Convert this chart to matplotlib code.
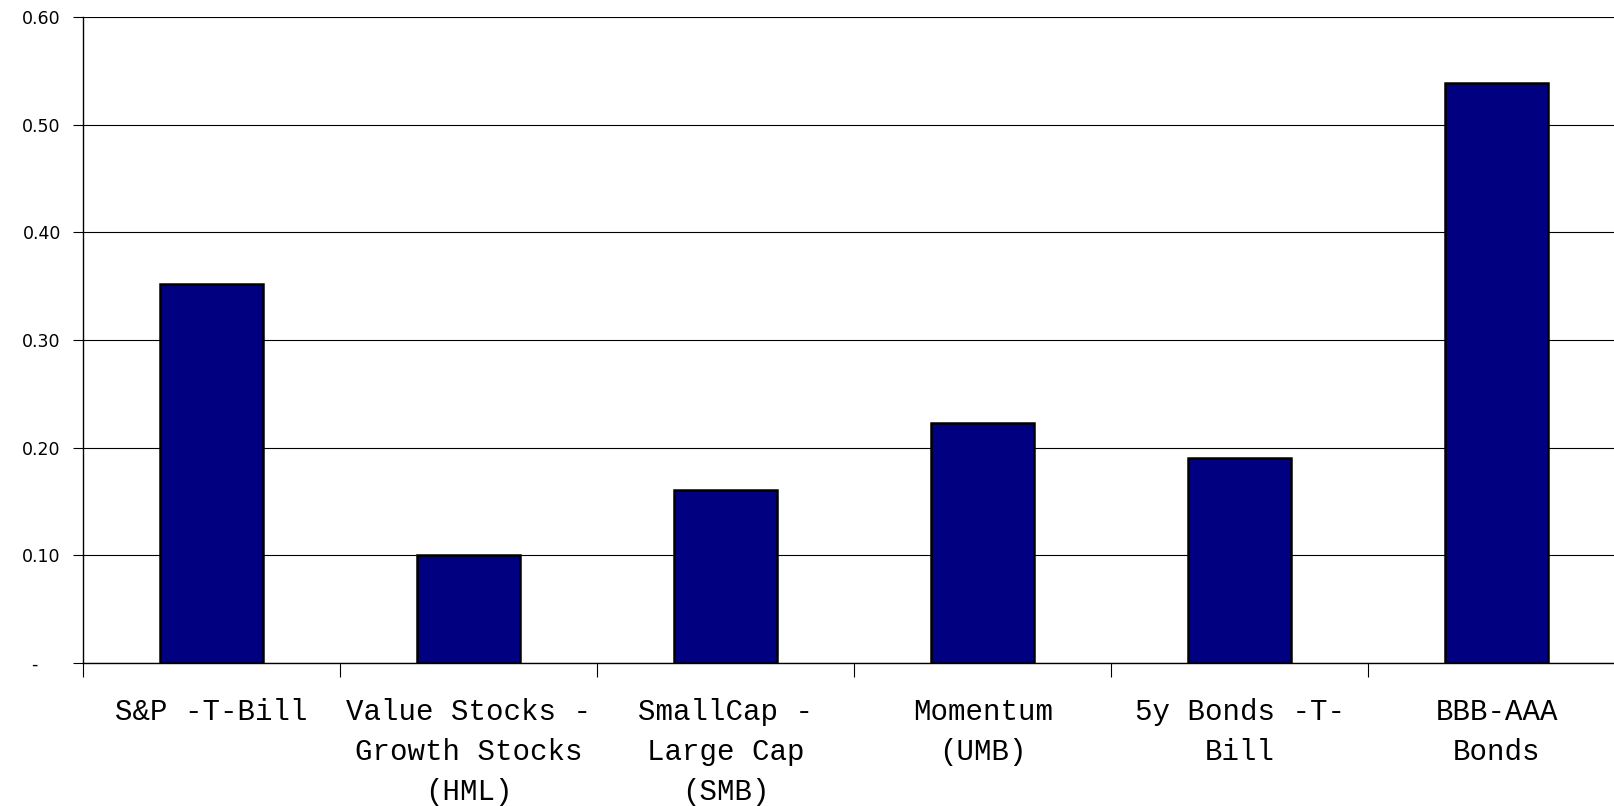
import numpy as np
import matplotlib.pyplot as plt

# Sharpe-type ratios of the factor portfolios
categories = [
    "S&P -T-Bill",
    "Value Stocks -\nGrowth Stocks\n(HML)",
    "SmallCap -\nLarge Cap\n(SMB)",
    "Momentum\n(UMB)",
    "5y Bonds -T-\nBill",
    "BBB-AAA\nBonds",
]
values = [0.352, 0.100, 0.161, 0.223, 0.190, 0.539]
yticks = [0.0, 0.1, 0.2, 0.3, 0.4, 0.5, 0.6]
ytick_labels = ["-    ", "0.10", "0.20", "0.30", "0.40", "0.50", "0.60"]

fig = plt.figure(figsize=(16.15, 8.06), dpi=100)
ax = fig.add_axes([0.0514, 0.1774, 0.955, 0.8015])

x = np.arange(len(categories))
ax.bar(x, values, width=0.4, color="#000080", edgecolor="black", linewidth=1.8, zorder=3)

ax.set_xlim(-0.5, len(categories) - 0.5)
ax.set_ylim(0, 0.6)

# y axis: gridlines and labels
ax.set_yticks(yticks)
ax.set_yticklabels(ytick_labels, fontsize=12.5, family="DejaVu Sans")
ax.yaxis.grid(True, color="black", linewidth=0.8, zorder=0)
ax.tick_params(axis="y", direction="out", length=7, width=0.8, pad=9)

# x axis: ticks between categories, labels centred under bars
ax.set_xticks(np.arange(-0.5, len(categories), 1.0))
ax.set_xticklabels([])
ax.tick_params(axis="x", direction="out", length=10, width=0.8)
ax.set_xticks(x, minor=True)
ax.set_xticklabels(categories, minor=True, fontsize=21, family="Liberation Mono",
                   linespacing=1.55, va="top")
ax.tick_params(axis="x", which="minor", length=0, pad=25)

for side in ["top", "right"]:
    ax.spines[side].set_visible(False)
ax.spines["left"].set_linewidth(1.0)
ax.spines["bottom"].set_linewidth(1.0)

fig.savefig("out.png", dpi=100)
